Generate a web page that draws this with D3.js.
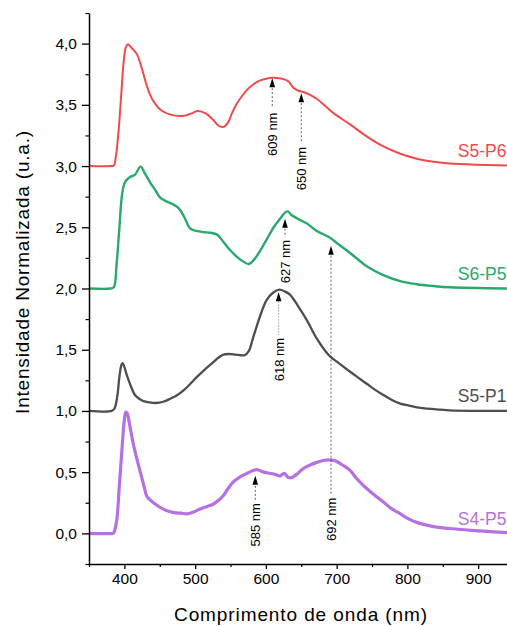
<!DOCTYPE html>
<html>
<head>
<meta charset="utf-8">
<script src="https://cdn.jsdelivr.net/npm/d3@7"></script>
<style>
  html, body { margin: 0; padding: 0; background: #fff; }
  svg { display: block; font-family: Arial, "Liberation Sans", sans-serif; }
</style>
</head>
<body>
<svg id="chart" width="507" height="626"></svg>
<script>
// Normalized emission spectra, each stacked on its own integer baseline

const xTicks = [400, 500, 600, 700, 800, 900];
const yTicks = [0, 0.5, 1, 1.5, 2, 2.5, 3, 3.5, 4];

const s5p6_nm = [350, 380, 385, 388, 392, 396, 399, 402, 405, 408, 411, 418, 425, 432, 439, 451, 465, 484, 495, 503, 515, 525, 533, 540, 546, 552, 559, 566, 573, 583, 592, 605, 616, 625, 632, 639, 646, 653, 663, 672, 684, 696, 719, 743, 766, 790, 813, 837, 860, 900, 945];
const s5p6_val = [3.0, 3.0, 3.005, 3.08, 3.3, 3.62, 3.85, 3.97, 3.995, 3.98, 3.96, 3.91, 3.79, 3.65, 3.55, 3.46, 3.42, 3.41, 3.43, 3.45, 3.43, 3.38, 3.33, 3.32, 3.35, 3.43, 3.51, 3.57, 3.62, 3.67, 3.70, 3.72, 3.72, 3.71, 3.69, 3.64, 3.615, 3.605, 3.58, 3.55, 3.49, 3.43, 3.34, 3.24, 3.16, 3.10, 3.06, 3.035, 3.02, 3.01, 3.005];

const s6p5_nm = [350, 380, 385, 389, 393, 397, 401, 408, 415, 423, 428, 437, 444, 451, 460, 468, 477, 485, 493, 502, 512, 522, 531, 540, 550, 563, 576, 584, 592, 602, 611, 620, 627, 631, 636, 645, 658, 672, 689, 703, 719, 743, 766, 790, 813, 837, 860, 945];
const s6p5_val = [2.0, 2.0, 2.01, 2.2, 2.5, 2.78, 2.87, 2.91, 2.93, 2.995, 2.95, 2.86, 2.80, 2.74, 2.71, 2.69, 2.655, 2.58, 2.49, 2.47, 2.46, 2.455, 2.44, 2.38, 2.31, 2.24, 2.20, 2.24, 2.31, 2.41, 2.50, 2.57, 2.62, 2.63, 2.60, 2.57, 2.53, 2.47, 2.42, 2.36, 2.29, 2.18, 2.11, 2.06, 2.035, 2.02, 2.01, 2.0];

const s5p1_nm = [350, 382, 386, 390, 393, 396, 397.5, 400, 403, 406, 410, 415, 421, 427, 435, 444, 455, 465, 475, 484, 493, 503, 514, 526, 533, 540, 548, 557, 565, 570, 576, 581, 587, 594, 601, 610, 619, 627, 634, 645, 658, 672, 689, 703, 719, 731, 743, 755, 766, 778, 790, 801, 813, 837, 860, 945];
const s5p1_val = [1.0, 1.0, 1.02, 1.12, 1.28, 1.38, 1.39, 1.36, 1.30, 1.25, 1.19, 1.13, 1.10, 1.08, 1.07, 1.065, 1.075, 1.10, 1.13, 1.17, 1.22, 1.28, 1.34, 1.40, 1.435, 1.46, 1.465, 1.46, 1.455, 1.455, 1.49, 1.58, 1.69, 1.81, 1.905, 1.965, 1.99, 1.975, 1.95, 1.86, 1.74, 1.59, 1.455, 1.39, 1.32, 1.27, 1.22, 1.17, 1.13, 1.09, 1.06, 1.045, 1.03, 1.015, 1.005, 1.0];

const s4p5_nm = [350, 383, 385, 389, 393, 397, 400, 402, 404, 408, 413, 418, 423, 428, 432, 439, 446, 458, 470, 480, 489, 498, 507, 517, 526, 533, 540, 547, 554, 563, 573, 580, 587, 597, 606, 614, 620, 626, 631, 636, 643, 653, 663, 672, 681, 689, 697, 705, 712, 719, 728, 738, 752, 766, 778, 790, 801, 813, 837, 860, 900, 945];
const s4p5_val = [0.0, 0.0, 0.005, 0.1, 0.4, 0.72, 0.93, 0.99, 0.98, 0.87, 0.72, 0.60, 0.49, 0.38, 0.30, 0.26, 0.23, 0.19, 0.17, 0.165, 0.16, 0.175, 0.20, 0.22, 0.24, 0.27, 0.31, 0.37, 0.42, 0.46, 0.49, 0.51, 0.52, 0.50, 0.49, 0.48, 0.47, 0.49, 0.46, 0.455, 0.48, 0.53, 0.56, 0.58, 0.595, 0.60, 0.595, 0.57, 0.545, 0.515, 0.45, 0.39, 0.32, 0.256, 0.20, 0.16, 0.12, 0.09, 0.055, 0.04, 0.02, 0.005];

const seriesNames = ["S5-P6", "S6-P5", "S5-P1", "S4-P5"];
const seriesBase = [3, 2, 1, 0];
const seriesColors = ["#f24a4a", "#2aa96b", "#4e4e4e", "#b571e4"];
const seriesWidths = [2.0, 2.4, 2.3, 3.2];
const seriesNm = [s5p6_nm, s6p5_nm, s5p1_nm, s4p5_nm];
const seriesVal = [s5p6_val, s6p5_val, s5p1_val, s4p5_val];

// Peak annotations: wavelength, arrow tip value, end of the guide line, label centre value
const peakNm = [609, 650, 627, 692, 618, 585];
const peakTip = [3.718, 3.595, 2.57, 2.35, 1.97, 0.47];
const peakLineEnd = [3.475, 3.19, 2.42, 0.31, 1.62, 0.26];
const peakLabelAt = [3.26, 2.98, 2.22, 0.115, 1.42, 0.07];
const peakDash = ["2,2", "2,2", "2,2", "2,2", "1.5,1.5", "2,2"];

const W = 507, H = 626;
const margin = { left: 89, top: 13, right: -3, bottom: 62 };

const x = d3.scaleLinear().domain([350, 945]).range([margin.left, W - margin.right]);
const y = d3.scaleLinear().domain([-0.25, 4.25]).range([H - margin.bottom, margin.top]);

const svg = d3.select("#chart");

svg.append("defs").append("clipPath").attr("id", "plotClip")
  .append("rect")
  .attr("x", x(350)).attr("y", y(4.25))
  .attr("width", x(945) - x(350)).attr("height", y(-0.25) - y(4.25));

// Spectra
const line = d3.line()
  .x(d => x(d[0]))
  .y(d => y(d[1]))
  .curve(d3.curveCatmullRom.alpha(0.5));

const spectra = svg.append("g").attr("clip-path", "url(#plotClip)");
seriesNames.forEach((name, i) => {
  const pts = seriesNm[i].map((nm, k) => [nm, seriesVal[i][k]]);
  spectra.append("path")
    .datum(pts)
    .attr("fill", "none")
    .attr("stroke", seriesColors[i])
    .attr("stroke-width", seriesWidths[i])
    .attr("stroke-linejoin", "round")
    .attr("d", line);
});

// Series names at the right end of each trace
seriesNames.forEach((name, i) => {
  svg.append("text")
    .attr("x", x(940))
    .attr("y", y(seriesBase[i] + 0.12))
    .attr("dy", "0.35em")
    .attr("text-anchor", "end")
    .attr("font-size", 17.5)
    .attr("fill", seriesColors[i])
    .text(name);
});

// Peak markers: dashed guide, arrowhead, rotated wavelength label
const ann = svg.append("g");
peakNm.forEach((nm, i) => {
  const px = x(nm);
  const tipY = y(peakTip[i]);
  ann.append("line")
    .attr("x1", px).attr("x2", px)
    .attr("y1", tipY + 6).attr("y2", y(peakLineEnd[i]))
    .attr("stroke", i === 4 ? "#888" : "#333")
    .attr("stroke-width", 0.8)
    .attr("stroke-dasharray", peakDash[i]);
  ann.append("path")
    .attr("d", `M${px},${tipY} L${px - 2.8},${tipY + 9} L${px + 2.8},${tipY + 9} Z`)
    .attr("fill", "#000");
  ann.append("text")
    .attr("transform", `translate(${px + 0.5},${y(peakLabelAt[i])}) rotate(-90)`)
    .attr("text-anchor", "middle")
    .attr("dy", "0.35em")
    .attr("font-size", 13)
    .attr("fill", "#000")
    .text(nm + " nm");
});

// Axes
const fmtY = d => d3.format(".1f")(d).replace(".", ",");

const xAxis = svg.append("g")
  .attr("transform", `translate(0,${y(-0.25)})`)
  .call(d3.axisBottom(x).tickValues(xTicks).tickSize(5).tickSizeOuter(0).tickPadding(4));
xAxis.select(".domain").attr("stroke-width", 1.5);
xAxis.selectAll(".tick line").attr("stroke-width", 1.3);
xAxis.selectAll("text").attr("font-size", 15.5).attr("fill", "#000");

const xMinor = svg.append("g")
  .attr("transform", `translate(0,${y(-0.25)})`)
  .call(d3.axisBottom(x).tickValues([350, 450, 550, 650, 750, 850]).tickSize(3).tickFormat(""));
xMinor.select(".domain").remove();
xMinor.selectAll(".tick line").attr("stroke-width", 1.2);

const yAxis = svg.append("g")
  .attr("transform", `translate(${x(350)},0)`)
  .call(d3.axisLeft(y).tickValues(yTicks).tickFormat(fmtY).tickSize(7).tickSizeOuter(0).tickPadding(5));
yAxis.select(".domain").attr("stroke-width", 1.5);
yAxis.selectAll(".tick line").attr("stroke-width", 1.3);
yAxis.selectAll("text").attr("font-size", 15.5).attr("fill", "#000");

const yMinor = svg.append("g")
  .attr("transform", `translate(${x(350)},0)`)
  .call(d3.axisLeft(y).tickValues([-0.25, 0.25, 0.75, 1.25, 1.75, 2.25, 2.75, 3.25, 3.75, 4.25]).tickSize(3.5).tickFormat(""));
yMinor.select(".domain").remove();
yMinor.selectAll(".tick line").attr("stroke-width", 1.2);

// Right frame with inward ticks
const yRight = svg.append("g")
  .attr("transform", `translate(${x(945)},0)`)
  .call(d3.axisLeft(y).tickValues(yTicks).tickSize(-5).tickFormat("").tickSizeOuter(0));
yRight.select(".domain").attr("stroke-width", 1.5);

// Axis titles
svg.append("text")
  .attr("x", 301).attr("y", 621)
  .attr("text-anchor", "middle")
  .attr("font-size", 19)
  .attr("letter-spacing", 0.9)
  .attr("fill", "#000")
  .text("Comprimento de onda (nm)");

svg.append("text")
  .attr("transform", `translate(28.5,272) rotate(-90)`)
  .attr("text-anchor", "middle")
  .attr("font-size", 19)
  .attr("letter-spacing", 0.8)
  .attr("fill", "#000")
  .text("Intensidade Normalizada (u.a.)");
</script>
</body>
</html>
